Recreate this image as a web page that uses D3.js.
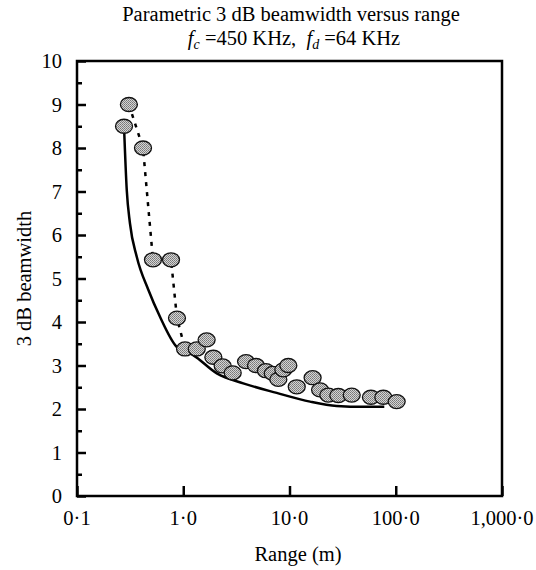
<!DOCTYPE html>
<html>
<head>
<meta charset="utf-8">
<script src="https://cdn.jsdelivr.net/npm/d3@7"></script>
<style>
body { margin: 0; background: #fff; }
text { font-family: "Liberation Serif", "Times New Roman", serif; fill: #000; }
</style>
</head>
<body>
<svg id="chart" width="536" height="570"></svg>
<script>
var w = 536
var h = 570
var plotLeft = 77, plotRight = 502, plotTop = 61, plotBottom = 496

// measured points (circles)
var pointRange = [0.277, 0.308, 0.418, 0.519, 0.767, 0.873, 1.04, 1.34, 1.66, 1.92, 2.35, 2.92,
                  3.9, 4.84, 6.0, 6.95, 7.85, 8.75, 9.75, 11.7, 16.5, 19.4, 23.2, 28.8, 38.5, 58.4, 76.4, 102]
var pointWidth = [8.5, 9.0, 8.0, 5.43, 5.43, 4.09, 3.38, 3.38, 3.59, 3.19, 2.99, 2.83,
                  3.09, 3.0, 2.88, 2.82, 2.68, 2.9, 3.0, 2.51, 2.72, 2.44, 2.32, 2.31, 2.32, 2.27, 2.27, 2.17]

// dashed line joining the first measurements
var dashRange = [0.308, 0.418, 0.519, 0.767, 0.873, 1.04]
var dashWidth = [9.0, 8.0, 5.43, 5.43, 4.09, 3.38]

// theoretical curve (solid)
var curveRange = [0.277, 0.294, 0.315, 0.365, 0.469, 0.604, 0.867, 1.24, 2.07, 3.67, 7.58, 15.6, 27.8, 50, 78]
var curveWidth = [8.5, 7.03, 6.27, 5.5, 4.74, 4.12, 3.43, 3.24, 2.82, 2.59, 2.37, 2.17, 2.07, 2.05, 2.05]

var xTicks = [0.1, 1, 10, 100, 1000]
var xTickLabels = ["0\u00b71", "1\u00b70", "10\u00b70", "100\u00b70", "1,000\u00b70"]
var yTicks = [0, 1, 2, 3, 4, 5, 6, 7, 8, 9, 10]
var yMinorTicks = [0.5, 1.5, 2.5, 3.5, 4.5, 5.5, 6.5, 7.5, 8.5, 9.5]

var x = d3.scaleLog().domain([0.1, 1000]).range([plotLeft, plotRight])
var y = d3.scaleLinear().domain([0, 10]).range([plotBottom, plotTop])

var svg = d3.select("#chart")

// stipple fill for the circles
var pat = svg.append("defs").append("pattern")
	.attr("id", "stip")
	.attr("width", 2)
	.attr("height", 2)
	.attr("patternUnits", "userSpaceOnUse")
pat.append("rect").attr("width", 2).attr("height", 2).attr("fill", "#d4d4d4")
pat.append("rect").attr("width", 1).attr("height", 1).attr("fill", "#777")
pat.append("rect").attr("x", 1).attr("y", 1).attr("width", 1).attr("height", 1).attr("fill", "#888")

// title
svg.append("text")
	.attr("x", 291)
	.attr("y", 21)
	.attr("text-anchor", "middle")
	.attr("font-size", "20.5px")
	.text("Parametric 3 dB beamwidth versus range")

var t2 = svg.append("text")
	.attr("x", 294)
	.attr("y", 45)
	.attr("text-anchor", "middle")
	.attr("font-size", "20.5px")
t2.append("tspan").attr("font-style", "italic").text("f")
t2.append("tspan").attr("font-style", "italic").attr("font-size", "14px").attr("dy", 4).text("c")
t2.append("tspan").attr("dy", -4).text(" =450 KHz,\u00a0 ")
t2.append("tspan").attr("font-style", "italic").text("f")
t2.append("tspan").attr("font-style", "italic").attr("font-size", "14px").attr("dy", 4).text("d")
t2.append("tspan").attr("dy", -4).text(" =64 KHz")

// x ticks (inside)
svg.append("g")
	.attr("transform", "translate(0," + plotBottom + ")")
	.call(d3.axisBottom(x).tickValues(xTicks).tickSize(-10).tickFormat(""))
	.call(function(g) { g.select(".domain").remove() })
	.selectAll("line").attr("stroke", "#000").attr("stroke-width", 2.5)

svg.selectAll(".xlab")
	.data(xTicks)
	.enter()
	.append("text")
	.attr("class", "xlab")
	.attr("x", function(d) { return x(d) })
	.attr("y", 525)
	.attr("text-anchor", "middle")
	.attr("font-size", "20.5px")
	.text(function(d, i) { return xTickLabels[i] })

// y ticks (inside)
svg.append("g")
	.attr("transform", "translate(" + plotLeft + ",0)")
	.call(d3.axisLeft(y).tickValues(yTicks).tickSize(-9).tickFormat(""))
	.call(function(g) { g.select(".domain").remove() })
	.selectAll("line").attr("stroke", "#000").attr("stroke-width", 2.5)

svg.append("g")
	.attr("transform", "translate(" + plotLeft + ",0)")
	.call(d3.axisLeft(y).tickValues(yMinorTicks).tickSize(-5).tickFormat(""))
	.call(function(g) { g.select(".domain").remove() })
	.selectAll("line").attr("stroke", "#000").attr("stroke-width", 2.5)

svg.selectAll(".ylab")
	.data(yTicks)
	.enter()
	.append("text")
	.attr("class", "ylab")
	.attr("x", 62)
	.attr("y", function(d) { return y(d) + 7 })
	.attr("text-anchor", "end")
	.attr("font-size", "20.5px")
	.text(function(d) { return d })

// frame
svg.append("rect")
	.attr("x", plotLeft)
	.attr("y", plotTop)
	.attr("width", plotRight - plotLeft)
	.attr("height", plotBottom - plotTop)
	.attr("fill", "none")
	.attr("stroke", "#000")
	.attr("stroke-width", 2.5)

// axis titles
svg.append("text")
	.attr("x", 298)
	.attr("y", 561)
	.attr("text-anchor", "middle")
	.attr("font-size", "20.5px")
	.text("Range (m)")

svg.append("text")
	.attr("transform", "translate(31," + ((plotTop + plotBottom) / 2) + ") rotate(-90)")
	.attr("text-anchor", "middle")
	.attr("font-size", "20.5px")
	.text("3 dB beamwidth")

// solid curve
var curveData = curveRange.map(function(r, i) { return [r, curveWidth[i]] })
svg.append("path")
	.datum(curveData)
	.attr("fill", "none")
	.attr("stroke", "#000")
	.attr("stroke-width", 2.5)
	.attr("d", d3.line()
		.x(function(d) { return x(d[0]) })
		.y(function(d) { return y(d[1]) })
		.curve(d3.curveMonotoneX))

// dashed line
var dashData = dashRange.map(function(r, i) { return [r, dashWidth[i]] })
svg.append("path")
	.datum(dashData)
	.attr("fill", "none")
	.attr("stroke", "#000")
	.attr("stroke-width", 2.5)
	.attr("stroke-dasharray", "4,6")
	.attr("d", d3.line()
		.x(function(d) { return x(d[0]) })
		.y(function(d) { return y(d[1]) }))

// circles
var pts = pointRange.map(function(r, i) { return {r: r, b: pointWidth[i]} })
svg.selectAll(".pt")
	.data(pts)
	.enter()
	.append("ellipse")
	.attr("class", "pt")
	.attr("cx", function(d) { return x(d.r) })
	.attr("cy", function(d) { return y(d.b) })
	.attr("rx", 8.5)
	.attr("ry", 7)
	.attr("fill", "url(#stip)")
	.attr("stroke", "#111")
	.attr("stroke-width", 1.3)
</script>
</body>
</html>
